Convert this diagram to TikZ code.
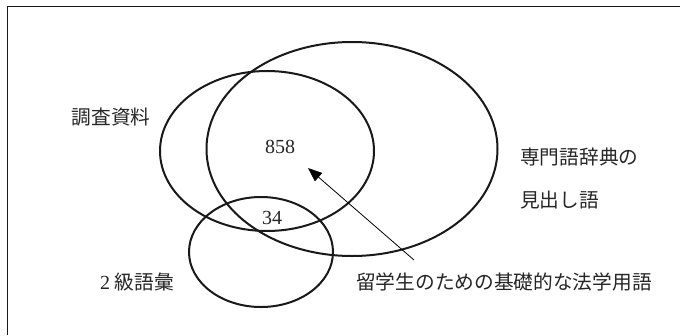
\documentclass[tikz,border=0pt]{standalone}
\usepackage{fontspec}
\setmainfont{Liberation Serif}
\newfontfamily\jp{Noto Sans CJK JP}
\usetikzlibrary{arrows.meta}
\begin{document}
\begin{tikzpicture}[x=1pt,y=-1pt,
  set/.style={draw=black!90,line width=2pt},
  lbl/.style={inner sep=0pt,font=\fontsize{19.7}{22}\selectfont\jp,text=black!85},
  num/.style={inner sep=0pt,font=\fontsize{20}{22}\selectfont,text=black!85}]
\useasboundingbox (0,0) rectangle (680,335);
\draw[line width=1.8pt,black!90] (7.5,335) -- (7.5,6.5) -- (680,6.5);
\draw[set] (352,149) ellipse [x radius=145.5, y radius=107];
\draw[set] (267,151) ellipse [x radius=107, y radius=80];
\draw[set] (261,252) ellipse [x radius=72, y radius=55];
\node[lbl] (chosa) at (111,117) {調査資料};
\node[lbl,anchor=west] (senmon) at (520,157) {専門語辞典の};
\node[lbl,anchor=west] (midashi) at (520,200) {見出し語};
\node[lbl,anchor=west] (kyu) at (100,282) {{\fontsize{20}{22}\selectfont\rmfamily 2} 級語彙};
\node[lbl,anchor=west] (ryu) at (356,282) {留学生のための基礎的な法学用語};
\node[num] (n858) at (280,147) {858};
\node[num] (n34) at (272,218) {34};
\coordinate (tail) at (414,260);
\coordinate (tip) at (308,168);
\draw[line width=0.8pt,-{Triangle[length=14pt,width=11pt]}] (tail) -- (tip);
\end{tikzpicture}
\end{document}
